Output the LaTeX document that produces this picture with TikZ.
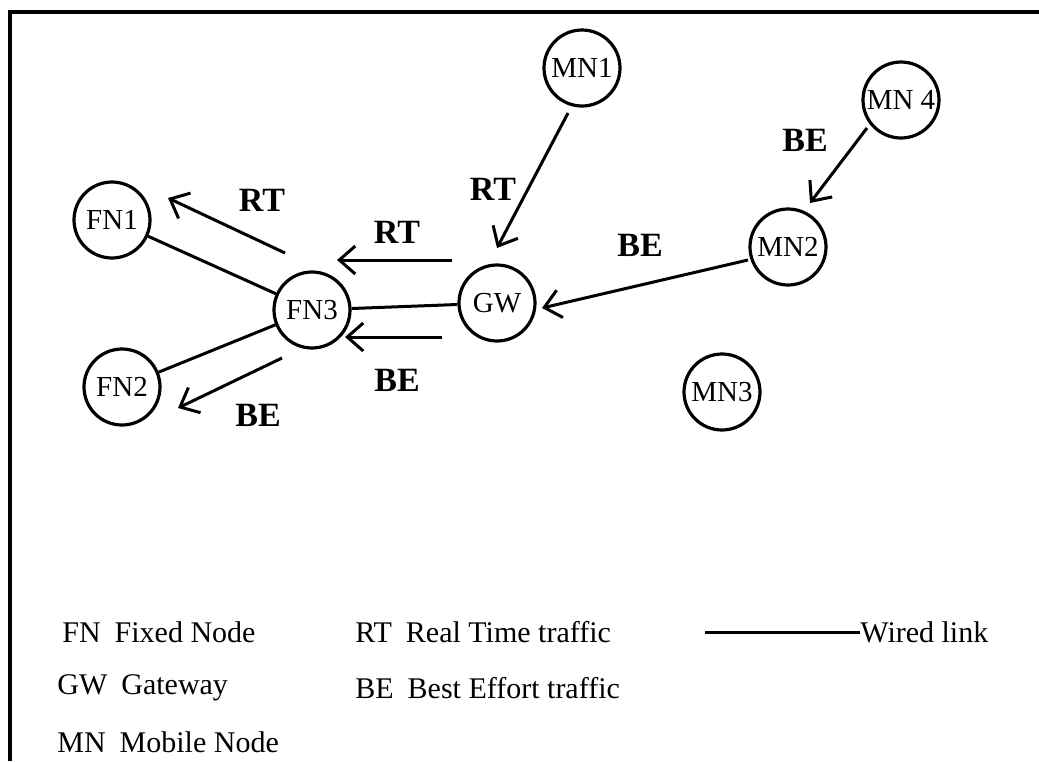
\documentclass[tikz,border=0pt]{standalone}
\usepackage{fontspec}
\setmainfont{Liberation Serif}
\usetikzlibrary{arrows.meta,positioning}
\tikzset
{
    netnode/.style = {circle, draw=black, line width=1.6pt, inner sep=0pt, minimum size=38pt, font=\fontsize{14.5}{16}\selectfont},
    traffic/.style = {inner sep=0pt, font=\fontsize{17}{19}\selectfont\bfseries},
    legend/.style  = {anchor=west, inner sep=0pt, font=\fontsize{15}{17}\selectfont},
    arrow/.style   = {line width=1.5pt, -{Straight Barb[length=8pt,width=14pt]}},
    wire/.style    = {line width=1.5pt}
}

\begin{document}
\begin{tikzpicture}[x=0.5pt, y=-0.5pt]
\useasboundingbox (0,0) rectangle (1039,761);
% frame
\draw[line width=1.6pt] (10,761) -- (10,12) -- (1039,12);
% nodes
\node(fn1) [netnode] at (112,220) {FN1};
\node(fn2) [netnode] at (122,387) {FN2};
\node(fn3) [netnode] at (312,310) {FN3};
\node(gw)  [netnode] at (497,303) {GW};
\node(mn1) [netnode] at (582,68)  {MN1};
\node(mn2) [netnode] at (788,247) {MN2};
\node(mn3) [netnode] at (722,392) {MN3};
\node(mn4) [netnode] at (901,100) {MN 4};
% wired links
\draw[wire] (fn1) -- (fn3);
\draw[wire] (fn3) -- (gw);
\draw[wire] (fn3) -- (fn2);
% traffic
\draw[arrow] ([shift={(-27,-57)}]fn3.center) -- ([shift={(56,-22)}]fn1.center);
\draw[arrow] ([shift={(-45,-43)}]gw.center) -- ([shift={(25,-50)}]fn3.center);
\draw[arrow] ([shift={(-55,34)}]gw.center) -- ([shift={(33,27)}]fn3.center);
\draw[arrow] ([shift={(-30,48)}]fn3.center) -- ([shift={(56,21)}]fn2.center);
\draw[arrow] ([shift={(-14,45)}]mn1.center) -- ([shift={(0,-55)}]gw.center);
\draw[arrow] ([shift={(-40,13)}]mn2.center) -- ([shift={(45,5)}]gw.center);
\draw[arrow] ([shift={(-34,28)}]mn4.center) -- ([shift={(22,-44)}]mn2.center);
\node(rtfn1) [traffic] at (262,200) {RT};
\node(rtgw)  [traffic] at (397,232) {RT};
\node(begw)  [traffic] at (397,380) {BE};
\node(befn2) [traffic] at (258,415) {BE};
\node(rtmn1) [traffic] at (493,189) {RT};
\node(bemn2) [traffic] at (640,245) {BE};
\node(bemn4) [traffic] at (805,140) {BE};
% legend
\node(lfn) [legend] at (62,632) {FN\hspace{7pt}Fixed Node};
\node(lgw) [legend] at (57,688) {GW\hspace{7pt}Gateway};
\node(lmn) [legend] at (57,742) {MN\hspace{7pt}Mobile Node};
\node(lrt) [legend] at (355,632) {RT\hspace{7pt}Real Time traffic};
\node(lbe) [legend] at (355,688) {BE\hspace{7pt}Best Effort traffic};
\coordinate(wstart) at (705,632);
\node(lwire) [legend] at (860,632) {Wired link};
\draw[wire] (wstart) -- (lwire.west);
\end{tikzpicture}
\end{document}
